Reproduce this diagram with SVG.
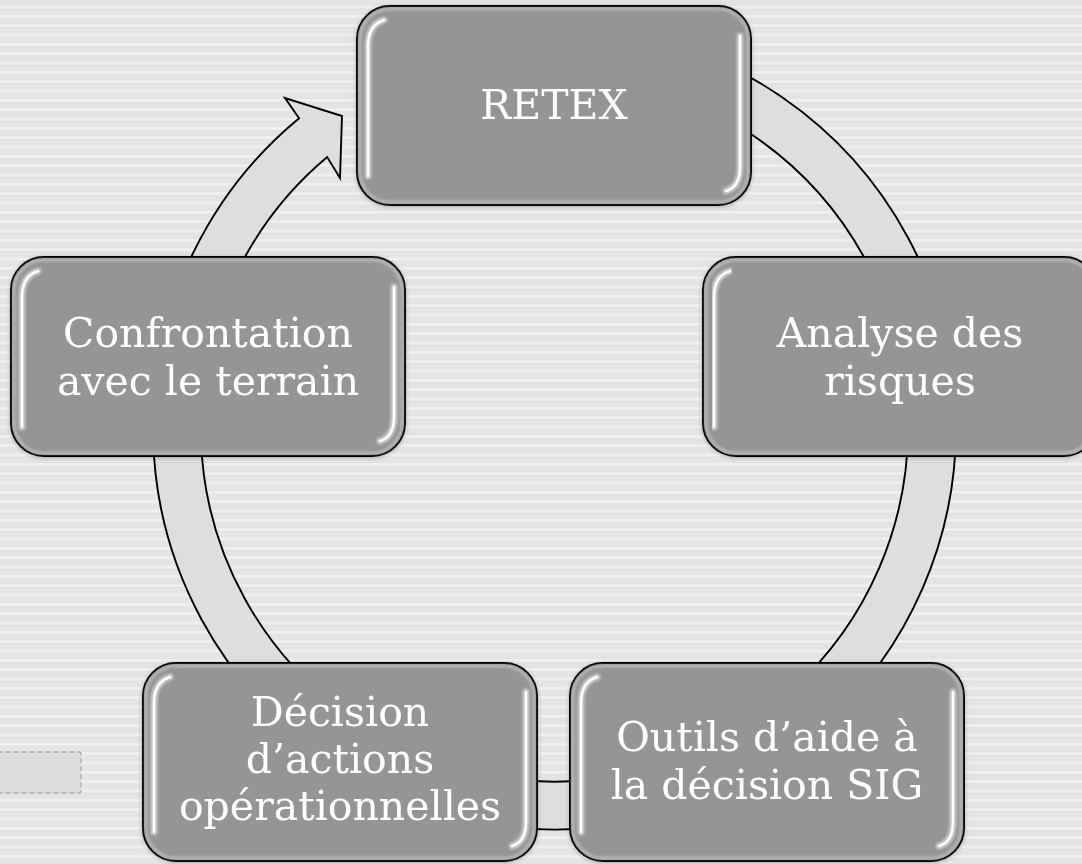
<svg xmlns="http://www.w3.org/2000/svg" width="1082" height="864" viewBox="0 0 1082 864">
<defs>
<pattern id="stripes" patternUnits="userSpaceOnUse" x="0" y="5.6" width="20" height="9.333">
<rect x="0" y="0" width="20" height="9.333" fill="#e4e4e4"/>
<rect x="0" y="0.4" width="20" height="1.6" fill="#f4f4f4"/>
<rect x="0" y="2" width="20" height="1" fill="#ececec"/>
</pattern>
<filter id="soft" x="-10%" y="-10%" width="120%" height="120%"><feGaussianBlur stdDeviation="1.2"/></filter>
<filter id="softer" x="-10%" y="-10%" width="120%" height="120%"><feGaussianBlur stdDeviation="0.5"/></filter>
<filter id="shadow" x="-5%" y="-5%" width="110%" height="110%"><feDropShadow dx="0" dy="1" stdDeviation="2" flood-color="#000" flood-opacity="0.25"/></filter>
<style>
.box{fill:#959595;stroke:#000;stroke-width:1.9}
.rim{fill:none;stroke:#c4c4c4;stroke-width:3;opacity:0.7}
.glow{fill:none;stroke:#c9c9c9;stroke-width:7;stroke-linecap:round}
.hl{fill:none;stroke:#ffffff;stroke-width:2.6;stroke-linecap:round}
.lbl{font-family:"DejaVu Serif","Liberation Serif",serif;font-size:41px;fill:#ffffff;text-anchor:middle}
.ring{fill:#dedede;stroke:#000;stroke-width:1.9;stroke-linejoin:miter}
</style>
</defs>
<rect x="0" y="0" width="1082" height="864" fill="url(#stripes)"/>
<rect id="placeholder" x="-4" y="752" width="85" height="41" rx="2" fill="#dddddd" stroke="#a9a9a9" stroke-width="1.3" stroke-dasharray="5 3"/>
<g id="connectors">
<path class="ring" d="M 624.2 32.6 A 401.5 401.5 0 1 1 299.1 118.2 L 285 98 L 342 116 L 340 178 L 327.2 157.1 A 353.6 353.6 0 1 0 615.9 79.8 Z"/>
</g>
<g id="node-retex" filter="url(#shadow)">
<rect class="box" x="357" y="6" width="394" height="199" rx="33"/>
<rect class="rim" x="360" y="9" width="388" height="193" rx="30" filter="url(#soft)"/>
<path class="glow" filter="url(#soft)" d="M 384 20 Q 368 25 368 46 L 368 176 M 740 36 L 740 167 Q 740 187 726 191"/>
<path class="hl" filter="url(#softer)" d="M 384 20 Q 368 25 368 46 L 368 176 M 740 36 L 740 167 Q 740 187 726 191"/>
<text class="lbl" x="554" y="119">RETEX</text>
</g>
<g id="node-analyse" filter="url(#shadow)">
<rect class="box" x="703" y="257" width="394" height="199" rx="33"/>
<rect class="rim" x="706" y="260" width="388" height="193" rx="30" filter="url(#soft)"/>
<path class="glow" filter="url(#soft)" d="M 730 271 Q 714 276 714 297 L 714 427"/>
<path class="hl" filter="url(#softer)" d="M 730 271 Q 714 276 714 297 L 714 427"/>
<text class="lbl" x="900" y="347">Analyse des</text>
<text class="lbl" x="900" y="395">risques</text>
</g>
<g id="node-outils" filter="url(#shadow)">
<rect class="box" x="570" y="663" width="394" height="198" rx="33"/>
<rect class="rim" x="573" y="666" width="388" height="192" rx="30" filter="url(#soft)"/>
<path class="glow" filter="url(#soft)" d="M 597 677 Q 581 682 581 703 L 581 832 M 953 692 L 953 822 Q 953 842 939 846"/>
<path class="hl" filter="url(#softer)" d="M 597 677 Q 581 682 581 703 L 581 832 M 953 692 L 953 822 Q 953 842 939 846"/>
<text class="lbl" x="767" y="751">Outils d’aide à</text>
<text class="lbl" x="767" y="799">la décision SIG</text>
</g>
<g id="node-decision" filter="url(#shadow)">
<rect class="box" x="143" y="663" width="394" height="198" rx="33"/>
<rect class="rim" x="146" y="666" width="388" height="192" rx="30" filter="url(#soft)"/>
<path class="glow" filter="url(#soft)" d="M 170 677 Q 154 682 154 703 L 154 832 M 526 692 L 526 822 Q 526 842 512 846"/>
<path class="hl" filter="url(#softer)" d="M 170 677 Q 154 682 154 703 L 154 832 M 526 692 L 526 822 Q 526 842 512 846"/>
<text class="lbl" x="340" y="726">Décision</text>
<text class="lbl" x="340" y="773">d’actions</text>
<text class="lbl" x="340" y="820">opérationnelles</text>
</g>
<g id="node-confrontation" filter="url(#shadow)">
<rect class="box" x="11" y="257" width="394" height="199" rx="33"/>
<rect class="rim" x="14" y="260" width="388" height="193" rx="30" filter="url(#soft)"/>
<path class="glow" filter="url(#soft)" d="M 38 271 Q 22 276 22 297 L 22 427 M 394 287 L 394 417 Q 394 437 380 441"/>
<path class="hl" filter="url(#softer)" d="M 38 271 Q 22 276 22 297 L 22 427 M 394 287 L 394 417 Q 394 437 380 441"/>
<text class="lbl" x="208" y="347">Confrontation</text>
<text class="lbl" x="208" y="395">avec le terrain</text>
</g>
</svg>
